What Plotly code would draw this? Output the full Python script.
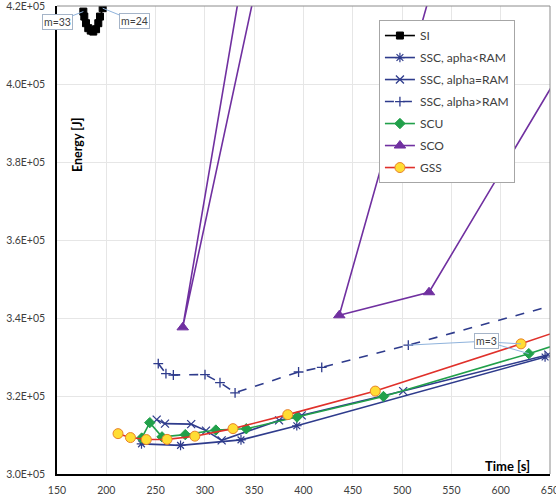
import plotly.graph_objects as go

# ---------------- data ----------------
SI_t = [176.7, 177.7, 179.4, 181.7, 184.2, 186.8, 189.6, 191.9, 193.6, 196.3]
SI_E = [418570, 417290, 415590, 414310, 413690, 413440, 414050, 415590, 417290, 419440]

SSC_lt_t = [235.7, 275.3, 336.6, 393.2, 645.0]
SSC_lt_E = [307730, 307340, 308750, 312370, 330000]

SSC_eq_t = [251.1, 259.5, 286.1, 301.1, 317.0, 375.2, 398.2, 501.1, 648.2]
SSC_eq_E = [313940, 312910, 312780, 311120, 308630, 313750, 315040, 321260, 330600]

SSC_gt_t = [252.7, 260.5, 268.0, 300.1, 315.3, 330.6, 395.0, 418.5, 506.3, 700.0]
SSC_gt_E = [328310, 325750, 325390, 325490, 323440, 320820, 326160, 327360, 333040, 346500]

SCU_t = [235.9, 244.1, 256.5, 280.1, 311.1, 342.0, 393.4, 481.1, 628.5, 720.0]
SCU_E = [309220, 313170, 309520, 310090, 311270, 311600, 314610, 319870, 330860, 338200]

SCO_t = [353.0, 277.5, 373.0, 558.5, 436.3, 527.3, 700.0]
SCO_E = [450000, 337600, 450000, 450000, 340700, 346600, 419800]

GSS_t = [211.9, 224.5, 240.6, 261.6, 289.8, 328.5, 384.0, 472.8, 620.6, 720.0]
GSS_E = [310350, 309340, 308830, 308880, 309700, 311630, 315220, 321260, 333370, 341900]

x_ticks = [150, 200, 250, 300, 350, 400, 450, 500, 550, 600, 650]
y_ticks = [300000, 320000, 340000, 360000, 380000, 400000, 420000]
y_tick_labels = ["3.0E+05", "3.2E+05", "3.4E+05", "3.6E+05", "3.8E+05", "4.0E+05", "4.2E+05"]

FONT = "Lato"
LEGEND_FONT = "Liberation Sans Narrow, Lato"
NAVY = "#2e3b8c"
GREEN = "#21a04a"
PURPLE = "#7030a0"
RED = "#e0302a"
LEADER = "#8fb3dc"

fig = go.Figure()

def add(name, t, e, color, symbol, size, dash="solid", mfill=None, mline=None, mlw=1.0, grp=""):
    fig.add_trace(go.Scatter(
        x=t, y=e, name=name, mode="lines+markers",
        line=dict(color=color, width=1.6, dash=dash),
        marker=dict(symbol=symbol, size=size,
                    color=mfill if mfill else color,
                    line=dict(color=mline if mline else color, width=mlw)),
        legendgroup=grp,
    ))

add("SI", SI_t, SI_E, "#000000", "square", 7, grp="g1")
add("SSC, apha<RAM", SSC_lt_t, SSC_lt_E, NAVY, "asterisk-open", 8, mlw=1.2, grp="g2")
add("SSC, alpha=RAM", SSC_eq_t, SSC_eq_E, NAVY, "x-thin-open", 8, mlw=1.3, grp="g3")
add("SSC, alpha>RAM", SSC_gt_t, SSC_gt_E, NAVY, "cross-thin-open", 7, dash="dash", mlw=1.3, grp="g4")
add("SCU", SCU_t, SCU_E, GREEN, "diamond", 8, grp="g5")
add("SCO", SCO_t, SCO_E, PURPLE, "triangle-up", 10, grp="g6")
add("GSS", GSS_t, GSS_E, RED, "circle", 10, mfill="#ffdd33", mline="#e8822a", mlw=1.0, grp="g7")

ann = []
lab_font = dict(family=FONT, size=10.5, color="#404040")

# m=3 leader lines (drawn first, label box on top)
for tt, ee, ax, ay in [
    (GSS_t[8], GSS_E[8], -34, -2),
    (SCU_t[8], SCU_E[8], -42, -12),
]:
    ann.append(dict(x=tt, y=ee, xref="x", yref="y", text=" ", showarrow=True,
                    arrowhead=0, arrowwidth=1, arrowcolor=LEADER, ax=ax, ay=ay,
                    font=lab_font))
ann.append(dict(x=SSC_gt_t[8], y=SSC_gt_E[8], xref="x", yref="y", text="m=3",
                showarrow=True, arrowhead=0, arrowwidth=1, arrowcolor=LEADER,
                ax=78, ay=-4, bgcolor="white", bordercolor="#a5b4c8", borderwidth=1,
                borderpad=1, font=lab_font))
ann.append(dict(x=SI_t[0], y=SI_E[0], xref="x", yref="y", text="m=33",
                showarrow=True, arrowhead=0, arrowwidth=1, arrowcolor=LEADER,
                ax=-26, ay=10, bgcolor="white", bordercolor="#a5b4c8", borderwidth=1,
                borderpad=1, font=lab_font))
ann.append(dict(x=SI_t[-1], y=SI_E[-1], xref="x", yref="y", text="m=24",
                showarrow=True, arrowhead=0, arrowwidth=1, arrowcolor=LEADER,
                ax=32, ay=13, bgcolor="white", bordercolor="#a5b4c8", borderwidth=1,
                borderpad=1, font=lab_font))
# axis titles inside the plot
ann.append(dict(x=0.0426, y=0.703, xref="paper", yref="paper", text="<b>Energy [J]</b>",
                xanchor="center", yanchor="middle",
                textangle=-90, showarrow=False, font=dict(family=FONT, size=12.5, color="#000000")))
ann.append(dict(x=0.913, y=0.017, xref="paper", yref="paper", text="<b>Time [s]</b>",
                xanchor="center", yanchor="middle",
                showarrow=False, font=dict(family=FONT, size=13, color="#000000")))

fig.update_layout(
    width=556, height=498,
    margin=dict(l=57, r=6, t=6, b=24, autoexpand=False),
    paper_bgcolor="white", plot_bgcolor="white",
    font=dict(family=FONT, size=10.5, color="#404040"),
    showlegend=True,
    legend=dict(x=0.653, y=0.970, xanchor="left", yanchor="top",
                bgcolor="white", bordercolor="#a6a6a6", borderwidth=1,
                font=dict(family=LEGEND_FONT, size=12, color="#404040"),
                tracegroupgap=3, itemwidth=30, traceorder="grouped"),
    annotations=ann,
    shapes=[
        dict(type="line", xref="paper", yref="paper", x0=0, x1=1, y0=1, y1=1,
             line=dict(color="#8c8c8c", width=1)),
        dict(type="line", xref="paper", yref="paper", x0=1, x1=1, y0=0, y1=1,
             line=dict(color="#8c8c8c", width=1)),
    ],
)
fig.update_xaxes(range=[150, 650], tickvals=x_ticks, ticktext=[str(v) for v in x_ticks],
                 showgrid=True, gridcolor="#e6e6e6", gridwidth=1,
                 showline=True, linecolor="#000000", linewidth=1.5,
                 ticks="", zeroline=False, automargin=False, ticklabelstandoff=6,
                 ticklabeloverflow="allow",
                 tickfont=dict(family=FONT, size=10.5, color="#404040"))
fig.update_yaxes(range=[300000, 420000], tickvals=y_ticks, ticktext=y_tick_labels,
                 showgrid=True, gridcolor="#e6e6e6", gridwidth=1,
                 showline=True, linecolor="#000000", linewidth=1.5,
                 ticks="", zeroline=False, automargin=False, ticklabelstandoff=8,
                 ticklabeloverflow="allow",
                 tickfont=dict(family=FONT, size=10.5, color="#404040"))

fig.write_html("out.html", config={"displayModeBar": False},
               post_script="document.body.style.margin='0px';")
